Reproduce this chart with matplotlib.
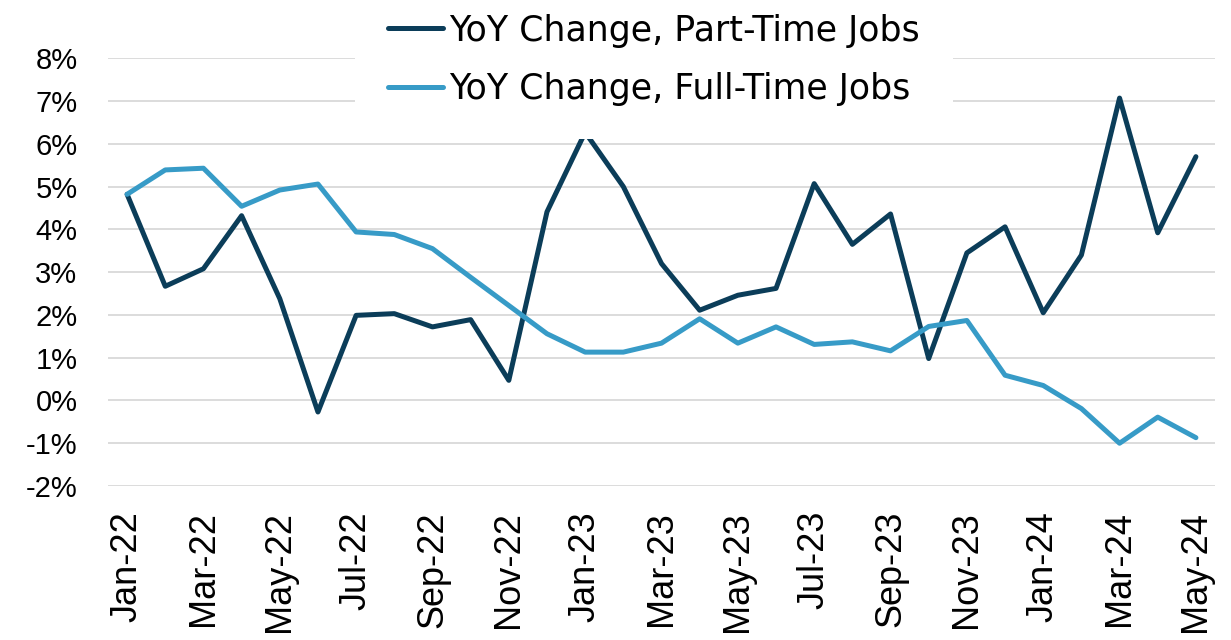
import numpy as np
import matplotlib as mpl
mpl.use('Agg')
import matplotlib.pyplot as plt
from matplotlib.ticker import FuncFormatter

# monthly data, Jan-22 .. May-24
months = ['Jan-22', 'Feb-22', 'Mar-22', 'Apr-22', 'May-22', 'Jun-22', 'Jul-22', 'Aug-22',
          'Sep-22', 'Oct-22', 'Nov-22', 'Dec-22', 'Jan-23', 'Feb-23', 'Mar-23', 'Apr-23',
          'May-23', 'Jun-23', 'Jul-23', 'Aug-23', 'Sep-23', 'Oct-23', 'Nov-23', 'Dec-23',
          'Jan-24', 'Feb-24', 'Mar-24', 'Apr-24', 'May-24']

part_time = [4.82, 2.67, 3.08, 4.32, 2.38, -0.27, 1.99, 2.03, 1.72, 1.89, 0.47, 4.41,
             6.27, 5.00, 3.20, 2.11, 2.46, 2.62, 5.07, 3.65, 4.36, 0.98, 3.45, 4.06,
             2.05, 3.40, 7.07, 3.92, 5.70]

full_time = [4.82, 5.39, 5.43, 4.54, 4.92, 5.06, 3.94, 3.88, 3.55, 2.88, 2.22, 1.56,
             1.13, 1.13, 1.34, 1.91, 1.34, 1.72, 1.31, 1.37, 1.16, 1.73, 1.87, 0.59,
             0.35, -0.19, -1.00, -0.39, -0.87]

yticks = list(range(-2, 9))

dark = '#0b3d59'
light = '#379bc7'

fig = plt.figure(figsize=(12.31, 6.40), dpi=100)
ax = fig.add_axes([108/1231, 1-486/640, (1215-108)/1231, (486-58.3)/640])

x = np.arange(len(months))
ax.plot(x, part_time, color=dark, lw=3.6, solid_joinstyle='round', solid_capstyle='round',
        label='YoY Change, Part-Time Jobs', zorder=3)
ax.plot(x, full_time, color=light, lw=3.6, solid_joinstyle='round', solid_capstyle='round',
        label='YoY Change, Full-Time Jobs', zorder=4)

ax.set_xlim(-0.5, len(months) - 0.5)
ax.set_ylim(-2, 8)
ax.set_yticks(yticks)
ax.yaxis.set_major_formatter(FuncFormatter(lambda v, p: f'{v:.0f}%'))
ax.set_xticks(x[::2])
ax.set_xticklabels(months[::2], rotation=90)

ax.grid(axis='y', color='#d9d9d9', lw=1.3)
ax.set_axisbelow(True)
for s in ax.spines.values():
    s.set_visible(False)
ax.tick_params(axis='y', length=0, pad=22, labelsize=21)
ax.tick_params(axis='x', length=0, pad=18, labelsize=26)
for lab in ax.get_xticklabels() + ax.get_yticklabels():
    lab.set_family('Liberation Sans')

leg = ax.legend(loc='center', bbox_to_anchor=(654/1231, 1-60/640), bbox_transform=fig.transFigure,
                frameon=True, facecolor='white', edgecolor='none', framealpha=1,
                fancybox=False, borderpad=0.95, handlelength=1.57, handletextpad=0.17,
                labelspacing=0.72, prop={'family': 'DejaVu Sans', 'size': 25})
leg.set_zorder(10)

fig.savefig('out.png', dpi=100)
